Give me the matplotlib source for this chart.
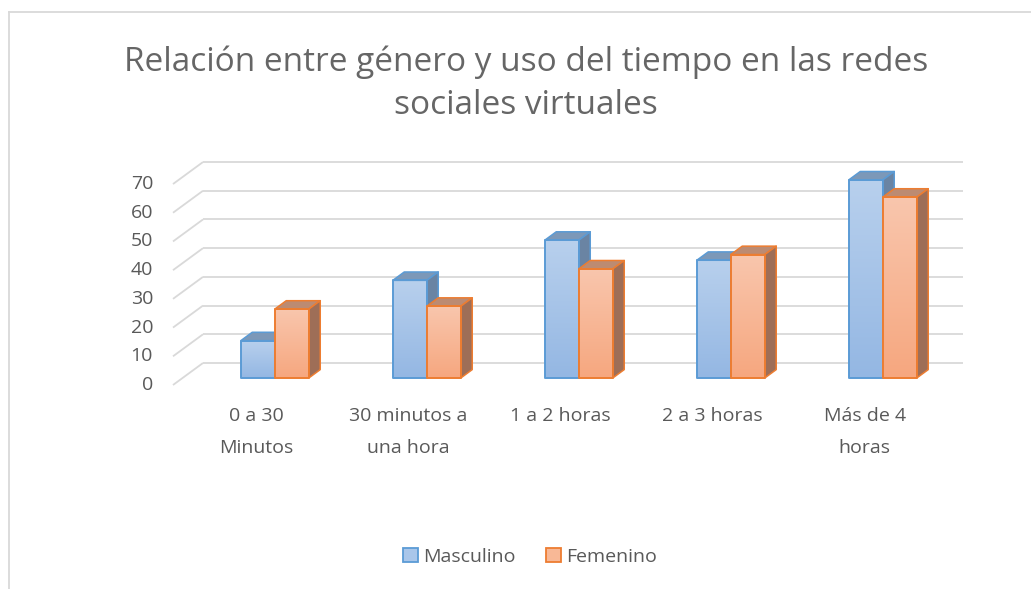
import numpy as np
import matplotlib
matplotlib.use("Agg")
import matplotlib.pyplot as plt
from matplotlib.patches import Polygon, Patch
from matplotlib.lines import Line2D
from matplotlib.colors import to_rgb

# ---------------- data ----------------
categories = ["0 a 30\nMinutos", "30 minutos a\nuna hora", "1 a 2 horas",
              "2 a 3 horas", "Más de 4\nhoras"]
masculino = [13, 34, 48, 41, 69]
femenino = [24, 25, 38, 43, 63]
series_names = ["Masculino", "Femenino"]
y_ticks = [0, 10, 20, 30, 40, 50, 60, 70]
title_lines = ["Relación entre género y uso del tiempo en las redes",
               "sociales virtuales"]

# ---------------- style ----------------
W, H = 1031, 589
FONT = ["Open Sans", "DejaVu Sans"]
TXT = "#595959"
TITLE_C = "#666666"
GRID = "#D9D9D9"
edge_cols = ["#5B9BD5", "#ED7D31"]
front_top = ["#B8D0ED", "#F9C6AD"]
front_bot = ["#94B7E3", "#F6A77F"]
top_cols = ["#7C98B8", "#BC8B72"]
side_cols = ["#6A84A3", "#9E6E57"]

# projection geometry (pixel scale of the axes)
PX_CAT = 152.0      # pixels per category
PX_UNIT = 2.871     # pixels per value unit
X0PX, Y0PX = 173.0, 385.0   # front-left corner of value 0 (x=-0.5)
DEPTH_X = 30.0 / PX_CAT     # full floor depth as data offset
DEPTH_Y = 22.0 / PX_UNIT
D0 = 0.32                   # bar front at this depth fraction
DD = 0.38                   # bar depth fraction
BAR_SHIFT = 0.17            # group centre shift (front face)
BAR_W = 34.0 / PX_CAT

fig = plt.figure(figsize=(W / 100, H / 100), dpi=100)
ax = fig.add_axes([0, 0, 1, 1])
ax.set_xlim(-0.5 - X0PX / PX_CAT, -0.5 + (W - X0PX) / PX_CAT)
ax.set_ylim(-(H - Y0PX) / PX_UNIT, Y0PX / PX_UNIT)
ax.axis("off")

n = len(categories)
xl, xr = -0.5, n - 0.5

# gridlines: slanted left wall + back wall
for v in y_ticks:
    ax.plot([xl, xl + DEPTH_X], [v, v + DEPTH_Y], color=GRID, lw=1.3,
            solid_capstyle="butt", zorder=1)
    ax.plot([xl + DEPTH_X, xr + DEPTH_X], [v + DEPTH_Y, v + DEPTH_Y],
            color=GRID, lw=1.3, solid_capstyle="butt", zorder=1)
    ax.text(xl - 20.0 / PX_CAT, v, str(v), ha="right", va="center",
            fontsize=14, color=TXT, family=FONT)

# category labels
for i, lab in enumerate(categories):
    ax.text(i + 0.05, -(407 - Y0PX) / PX_UNIT, lab, ha="center", va="top",
            fontsize=14, color=TXT, family=FONT, linespacing=1.97,
            transform=ax.transData)


def grad_img(c_top, c_bot, nrow=64):
    a = np.array(to_rgb(c_top))
    b = np.array(to_rgb(c_bot))
    t = np.linspace(0, 1, nrow)[:, None]
    return (a * (1 - t) + b * t)[:, None, :]


z = 5
bx = D0 * DEPTH_X
by = D0 * DEPTH_Y
ddx = DD * DEPTH_X
ddy = DD * DEPTH_Y
for i in range(n):
    for s, vals in enumerate([masculino, femenino]):
        v = vals[i]
        x0 = i + BAR_SHIFT + (s - 1) * BAR_W
        x1 = x0 + BAR_W
        y0 = by
        y1 = by + v
        ec = edge_cols[s]
        # front face with vertical gradient
        front = Polygon([[x0, y0], [x1, y0], [x1, y1], [x0, y1]],
                        closed=True, fc="none", ec="none", zorder=z)
        ax.add_patch(front)
        im = ax.imshow(grad_img(front_top[s], front_bot[s]),
                       extent=[x0, x1, y0, y1], aspect="auto",
                       interpolation="bilinear", zorder=z, origin="upper")
        im.set_clip_path(front)
        # top face
        ax.add_patch(Polygon([[x0, y1], [x1, y1], [x1 + ddx, y1 + ddy],
                              [x0 + ddx, y1 + ddy]], closed=True,
                             fc=top_cols[s], ec=ec, lw=1.1, zorder=z + 0.1,
                             joinstyle="round"))
        # side face
        ax.add_patch(Polygon([[x1, y0], [x1 + ddx, y0 + ddy],
                              [x1 + ddx, y1 + ddy], [x1, y1]], closed=True,
                             fc=side_cols[s], ec=ec, lw=1.1, zorder=z + 0.1,
                             joinstyle="round"))
        # front outline
        ax.add_patch(Polygon([[x0, y0], [x1, y0], [x1, y1], [x0, y1]],
                             closed=True, fc="none", ec=ec, lw=1.4,
                             zorder=z + 0.2, joinstyle="round"))
        z += 1

# title
fig.text(526 / W, 1 - 62 / H, title_lines[0], ha="center", va="center",
         fontsize=24, color=TITLE_C, family=FONT)
fig.text(526 / W, 1 - 105 / H, title_lines[1], ha="center", va="center",
         fontsize=24, color=TITLE_C, family=FONT)

# legend
handles = [Patch(facecolor="#A9C6EA", edgecolor=edge_cols[0], lw=1.3),
           Patch(facecolor="#F8B896", edgecolor=edge_cols[1], lw=1.3)]
leg = fig.legend(handles, series_names, loc="center",
                 bbox_to_anchor=(530 / W, 1 - 557 / H), ncol=2,
                 frameon=False, handlelength=0.75, handleheight=0.75,
                 handletextpad=0.25, columnspacing=1.6,
                 prop={"family": FONT, "size": 14})
for t in leg.get_texts():
    t.set_color(TXT)

# chart border (cropped chart area)
fig.add_artist(Line2D([9 / W, 1.0], [1 - 11.5 / H, 1 - 11.5 / H],
                      transform=fig.transFigure, color=GRID, lw=1.3))
fig.add_artist(Line2D([9 / W, 9 / W], [1 - 11.5 / H, 0.0],
                      transform=fig.transFigure, color=GRID, lw=1.3))

fig.savefig("out.png", dpi=100, facecolor="white")
